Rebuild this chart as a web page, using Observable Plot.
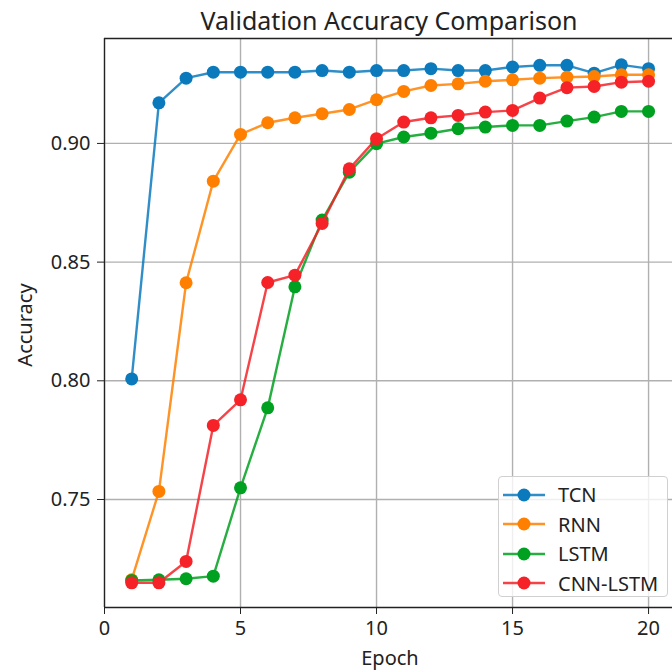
<!DOCTYPE html>
<html>
<head>
<meta charset="utf-8">
<script src="https://cdn.jsdelivr.net/npm/d3@7"></script>
<script src="https://cdn.jsdelivr.net/npm/@observablehq/plot@0.6"></script>
<style>
  html, body { margin: 0; padding: 0; background: #fff; overflow: hidden; }
  body { width: 672px; height: 672px; position: relative; font-family: "Noto Sans", sans-serif; }
  #title { height: 30px; padding-left: 106px; box-sizing: border-box; width: 672px; text-align: center; font-size: 25px; line-height: 40px; color: #222; }
  #legend { position: absolute; left: 498px; top: 476px; width: 170px; height: 121px; box-sizing: border-box;
            background: rgba(255,255,255,0.8); border: 1px solid #d0d0d0; border-radius: 4px; padding-top: 3px; }
  .item { height: 29.5px; display: flex; align-items: center; font-size: 20px; color: #222; }
  .item svg { margin-left: 4px; margin-right: 13px; }
  .axlabel { position: absolute; font-size: 20px; color: #222; white-space: nowrap; line-height: 24px; }
  #xlabel { left: 290px; width: 200px; text-align: center; top: 646px; }
  #ylabel { left: -75px; width: 200px; text-align: center; top: 313px; transform: rotate(-90deg); }
</style>
</head>
<body>
<div id="title">Validation Accuracy Comparison</div>
<div id="chart"></div>
<div id="legend"></div>
<div id="xlabel" class="axlabel">Epoch</div>
<div id="ylabel" class="axlabel">Accuracy</div>
<script>
const epochs = [1,2,3,4,5,6,7,8,9,10,11,12,13,14,15,16,17,18,19,20];
const seriesNames = ["TCN", "RNN", "LSTM", "CNN-LSTM"];
const seriesColors = ["#0a7abd", "#ff8000", "#00a020", "#f52228"];
const tcn = [0.8008,0.9171,0.9275,0.9300,0.9300,0.9300,0.9300,0.9307,0.9300,0.9307,0.9307,0.9315,0.9307,0.9307,0.9322,0.9329,0.9329,0.9296,0.9331,0.9315];
const rnn = [0.7162,0.7534,0.8413,0.8841,0.9038,0.9087,0.9108,0.9125,0.9143,0.9184,0.9219,0.9244,0.9251,0.9262,0.9268,0.9275,0.9279,0.9282,0.9289,0.9289];
const lstm = [0.7159,0.7162,0.7166,0.7177,0.7549,0.7886,0.8396,0.8677,0.8879,0.8999,0.9027,0.9043,0.9062,0.9069,0.9076,0.9076,0.9094,0.9111,0.9135,0.9135];
const cnnLstm = [0.7149,0.7149,0.7239,0.7812,0.7920,0.8414,0.8445,0.8663,0.8893,0.9020,0.9090,0.9108,0.9118,0.9132,0.9139,0.9191,0.9235,0.9240,0.9258,0.9262];
const xTicks = [0, 5, 10, 15, 20];
const yTicks = [0.75, 0.80, 0.85, 0.90];
const xDomain = [0, 20.88];
const yDomain = [0.7045, 0.9442];

const allSeries = [tcn, rnn, lstm, cnnLstm];
const data = [];
allSeries.forEach((vals, i) => vals.forEach((v, j) => data.push({epoch: epochs[j], acc: v, model: seriesNames[i]})));

const marks = [
  Plot.gridX(xTicks, {stroke: "#b0b0b0", strokeOpacity: 1, strokeWidth: 1.4}),
  Plot.gridY(yTicks, {stroke: "#b0b0b0", strokeOpacity: 1, strokeWidth: 1.4}),
  Plot.ruleX([xDomain[0]], {stroke: "#222", strokeWidth: 1.3}),
  Plot.ruleY([yDomain[0], yDomain[1]], {stroke: "#222", strokeWidth: 1.3}),
  Plot.axisX(xTicks, {tickSize: 7, tickPadding: 6, fontSize: 20, label: null}),
  Plot.axisY(yTicks, {tickSize: 7, tickPadding: 7, fontSize: 20, tickFormat: d3.format(".2f"), label: null})
];
seriesNames.forEach((name, i) => {
  const d = data.filter(r => r.model === name);
  marks.push(Plot.line(d, {x: "epoch", y: "acc", stroke: seriesColors[i], strokeWidth: 2.4, strokeOpacity: 0.85}));
  marks.push(Plot.dot(d, {x: "epoch", y: "acc", fill: seriesColors[i], r: 6.5}));
});

const chart = Plot.plot({
  width: 672,
  height: 642,
  marginTop: 8,
  marginBottom: 65,
  marginLeft: 104,
  marginRight: 0,
  style: {fontFamily: "Noto Sans", fontSize: "20px", color: "#222", background: "#fff", overflow: "visible"},
  x: {domain: xDomain, label: null},
  y: {domain: yDomain, label: null},
  marks
});
document.getElementById("chart").appendChild(chart);

const legend = document.getElementById("legend");
seriesNames.forEach((name, i) => {
  const item = document.createElement("div");
  item.className = "item";
  item.innerHTML = `<svg width="42" height="16"><line x1="0" x2="42" y1="8" y2="8" stroke="${seriesColors[i]}" stroke-width="2.4" stroke-opacity="0.85"/><circle cx="21" cy="8" r="6.5" fill="${seriesColors[i]}"/></svg><span>${name}</span>`;
  legend.appendChild(item);
});
</script>
</body>
</html>
